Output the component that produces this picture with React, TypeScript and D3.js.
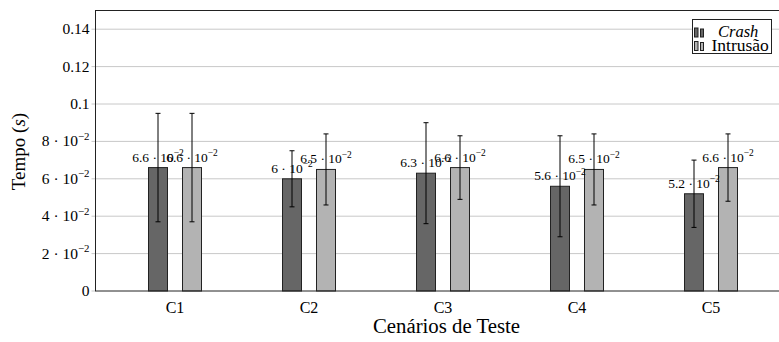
import * as d3 from 'd3';

const categories = ['C1', 'C2', 'C3', 'C4', 'C5'];
const crashMeans = [0.066, 0.06, 0.063, 0.056, 0.052];
const crashErrors = [0.029, 0.015, 0.027, 0.027, 0.018];
const intrusaoMeans = [0.066, 0.065, 0.066, 0.065, 0.066];
const intrusaoErrors = [0.029, 0.019, 0.017, 0.019, 0.018];
const yTicks = [0, 0.02, 0.04, 0.06, 0.08, 0.1, 0.12, 0.14];
const yTickLabels = ['0', '2 · 10^−2', '4 · 10^−2', '6 · 10^−2', '8 · 10^−2', '0.1', '0.12', '0.14'];
const seriesNames = ['Crash', 'Intrusão'];

const W = 779;
const H = 342;
const left = 95.5;
const top = 10.5;
const bottom = 291;
const right = 790.5;
const FONT = 'Liberation Serif, Times New Roman, Times, serif';

// split "a · 10^−2" into base and exponent
const MathText = ({ s, x, y, size, anchor }: { s: string; x: number; y: number; size: number; anchor: string }) => {
  const [base, exp] = s.split('^');
  return (
    <text x={x} y={y} textAnchor={anchor} style={{ fontFamily: FONT, fontSize: size }} fill="#000">
      {base}
      {exp && (
        <tspan dy={-size * 0.42} style={{ fontSize: size * 0.7 }}>
          {exp}
        </tspan>
      )}
    </text>
  );
};

const fmt = (v: number) => `${+(v * 100).toFixed(1)} · 10^−2`;

export default function App() {
  const y = d3.scaleLinear().domain([0, 0.15]).range([bottom, top]);
  const x = d3.scalePoint<string>().domain(categories).range([left + 79.5, left + 79.5 + 4 * 134]);
  const barW = 19;
  const offset = 17;

  const series = [
    { name: seriesNames[0], means: crashMeans, errs: crashErrors, fill: '#666666', dx: -offset },
    { name: seriesNames[1], means: intrusaoMeans, errs: intrusaoErrors, fill: '#b3b3b3', dx: offset },
  ];

  return (
    <svg width={W} height={H} style={{ position: 'absolute', left: 0, top: 0, display: 'block', fontFamily: FONT }}>
      <rect width={W} height={H} fill="#fff" />
      {/* grid */}
      {yTicks.map((t) => (
        <g key={t}>
          {t > 0 && <line x1={left} x2={right} y1={y(t)} y2={y(t)} stroke="#c8c8c8" strokeWidth={1} />}
          <line x1={left - 4} x2={left} y1={y(t)} y2={y(t)} stroke="#c8c8c8" strokeWidth={1} />
        </g>
      ))}
      {/* bars */}
      {series.map((s) =>
        categories.map((c, i) => {
          const cx = (x(c) ?? 0) + s.dx;
          const v = s.means[i];
          return (
            <rect key={s.name + c} x={cx - barW / 2} y={y(v)} width={barW} height={bottom - y(v)} fill={s.fill} stroke="#222" strokeWidth={1} />
          );
        })
      )}
      {/* labels */}
      {series.map((s) =>
        categories.map((c, i) => {
          const cx = (x(c) ?? 0) + s.dx;
          const v = s.means[i];
          return <MathText key={'l' + s.name + c} s={fmt(v)} x={cx} y={y(v) - 6} size={13.5} anchor="middle" />;
        })
      )}
      {/* error bars */}
      {series.map((s) =>
        categories.map((c, i) => {
          const cx = (x(c) ?? 0) + s.dx;
          const v = s.means[i];
          const e = s.errs[i];
          return (
            <g key={'e' + s.name + c} stroke="#000" strokeWidth={1}>
              <line x1={cx} x2={cx} y1={y(v + e)} y2={y(v - e)} />
              <line x1={cx - 2.5} x2={cx + 2.5} y1={y(v + e)} y2={y(v + e)} />
              <line x1={cx - 2.5} x2={cx + 2.5} y1={y(v - e)} y2={y(v - e)} />
            </g>
          );
        })
      )}
      {/* frame */}
      <rect x={left} y={top} width={right - left} height={bottom - top} fill="none" stroke="#222" strokeWidth={1} />
      {/* y tick labels */}
      {yTicks.map((t, i) => (
        <MathText key={'yt' + t} s={yTickLabels[i]} x={left - 6} y={y(t) + 5} size={15.5} anchor="end" />
      ))}
      {/* x tick labels */}
      {categories.map((c) => (
        <text key={c} x={x(c)} y={312.5} textAnchor="middle" style={{ fontFamily: FONT, fontSize: 16 }}>
          {c}
        </text>
      ))}
      <text x={446.5} y={333} textAnchor="middle" style={{ fontFamily: FONT, fontSize: 20.8 }}>
        Cenários de Teste
      </text>
      <text transform={`translate(25,151.5) rotate(-90)`} textAnchor="middle" style={{ fontFamily: FONT, fontSize: 19 }}>
        Tempo (<tspan fontStyle="italic">s</tspan>)
      </text>
      {/* legend */}
      <g>
        <rect x={692.5} y={19.5} width={79} height={34} fill="#fff" stroke="#222" strokeWidth={1} />
        {series.map((s, i) => {
          const ry = 37 + i * 13.5;
          return (
            <g key={'lg' + s.name}>
              <rect x={694.5} y={ry - 9} width={3.5} height={9} fill={s.fill} stroke="#222" strokeWidth={1} />
              <rect x={700.5} y={ry - 8} width={3} height={8} fill={s.fill} stroke="#222" strokeWidth={1} />
              <text x={i === 0 ? 718 : 711.5} y={ry} fontStyle={i === 0 ? 'italic' : 'normal'} style={{ fontFamily: FONT, fontSize: i === 0 ? 16.5 : 17.5 }}>
                {s.name}
              </text>
            </g>
          );
        })}
      </g>
    </svg>
  );
}
